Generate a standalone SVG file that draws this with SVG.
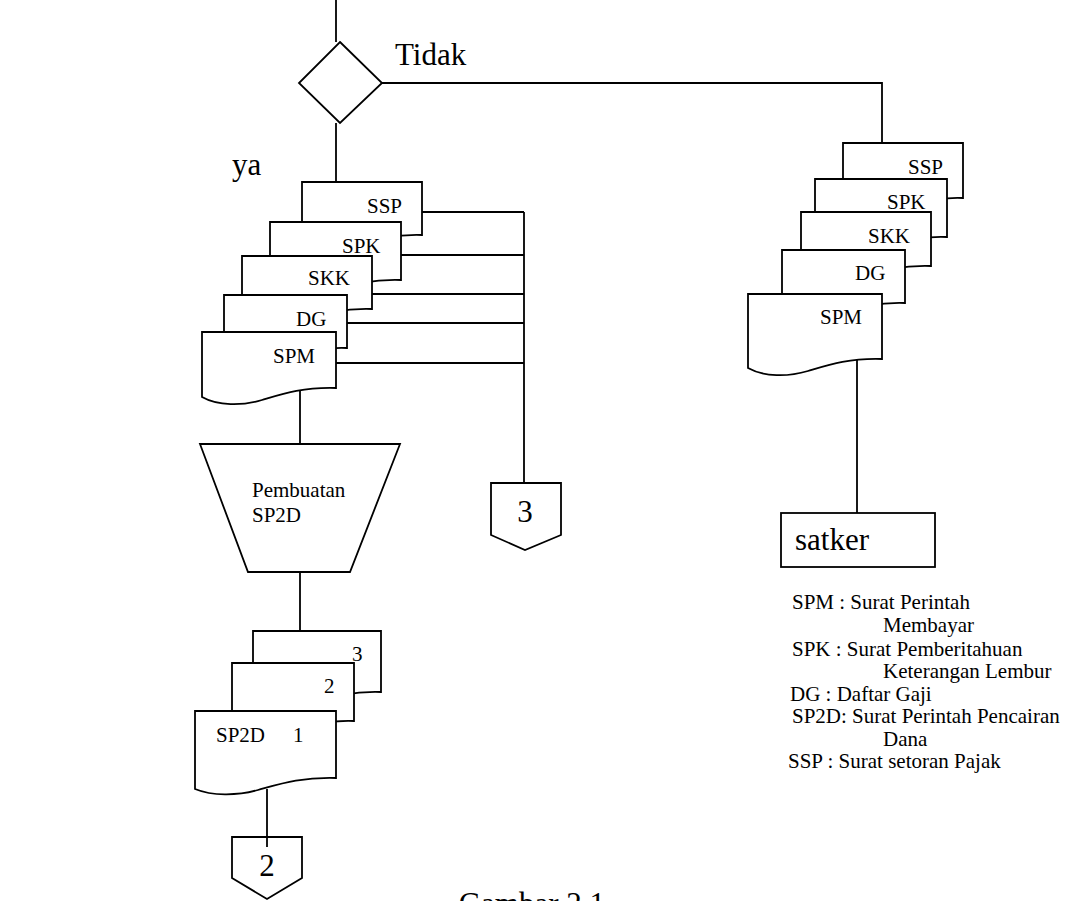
<svg xmlns="http://www.w3.org/2000/svg" width="1070" height="901" viewBox="0 0 1070 901">
<style>
.s{fill:#fff;stroke:#000;stroke-width:1.8;stroke-linejoin:miter}
.c{fill:none;stroke:#000;stroke-width:1.8}
text{font-family:"Liberation Serif","Times New Roman",serif;fill:#000}
.sm{font-size:21px}
.bg{font-size:31px}
</style>
<rect width="1070" height="901" fill="#fff"/>
<g id="connectors">
<path class="c" d="M336,0 V42"/>
<path class="c" d="M336,123 V182"/>
<path class="c" d="M382,83 H882 V143"/>
<path class="c" d="M422,212 H524 M401,255 H524 M372,294 H524 M347,323 H524 M336,363 H524 M524,212 V483"/>
<path class="c" d="M300,388 V444"/>
<path class="c" d="M300,572 V631"/>
<path class="c" d="M267,789 V845"/>
<path class="c" d="M857,359 V513"/>
</g>
<g id="decision">
<path class="s" d="M340,42 L382,83 L340,123 L299,83 Z"/>
</g>
<text class="bg" x="395" y="65">Tidak</text>
<text class="bg" x="232" y="175">ya</text>
<g id="left-ssp"><path class="s" d="M302,182 H422 V235 C392,234 374,241 356,247 C338,253 316,253 302,244 Z"/><text class="sm" x="367" y="213">SSP</text></g>
<g id="left-spk"><path class="s" d="M270,222 H401 V280 C368,279 349,286 329,292 C309,298 286,298 270,289 Z"/><text class="sm" x="342" y="253">SPK</text></g>
<g id="left-skk"><path class="s" d="M242,256 H372 V309 C340,308 320,315 300,321 C281,327 258,327 242,318 Z"/><text class="sm" x="308" y="285">SKK</text></g>
<g id="left-dg"><path class="s" d="M224,295 H347 V348 C316,347 298,354 279,360 C261,366 239,366 224,357 Z"/><text class="sm" x="296" y="326">DG</text></g>
<g id="left-spm"><path class="s" d="M202,332 H336 V388 C302,387 282,394 262,400 C242,406 218,406 202,397 Z"/><text class="sm" x="273" y="363">SPM</text></g>
<g id="right-ssp"><path class="s" d="M843,143 H963 V198 C933,197 915,204 897,210 C879,216 857,216 843,207 Z"/><text class="sm" x="908" y="174">SSP</text></g>
<g id="right-spk"><path class="s" d="M815,179 H947 V237 C914,236 894,243 874,249 C855,255 831,255 815,246 Z"/><text class="sm" x="887" y="209">SPK</text></g>
<g id="right-skk"><path class="s" d="M801,212 H931 V266 C898,265 879,272 859,278 C840,284 817,284 801,275 Z"/><text class="sm" x="868" y="243">SKK</text></g>
<g id="right-dg"><path class="s" d="M782,250 H905 V303 C874,302 856,309 837,315 C819,321 797,321 782,312 Z"/><text class="sm" x="855" y="280">DG</text></g>
<g id="right-spm"><path class="s" d="M748,294 H882 V359 C848,358 828,365 808,371 C788,377 764,377 748,368 Z"/><text class="sm" x="820" y="324">SPM</text></g>
<g id="process-sp2d"><path class="s" d="M200,444 H400 L350,572 H248 Z"/><text class="sm" x="252" y="497">Pembuatan</text><text class="sm" x="252" y="522">SP2D</text></g>
<g id="offpage-3"><path class="s" d="M491,483 H561 V535 L525,550 L491,535 Z"/><text class="bg" x="525" y="522" text-anchor="middle">3</text></g>
<g id="satker"><rect class="s" x="781" y="513" width="154" height="54"/><text class="bg" x="795" y="550">satker</text></g>
<g id="sp2d-3"><path class="s" d="M253,631 H381 V692 C349,691 330,698 311,704 C291,710 268,710 253,701 Z"/><text class="sm" x="352" y="661">3</text></g>
<g id="sp2d-2"><path class="s" d="M232,663 H354 V721 C323,720 305,727 287,733 C269,739 247,739 232,730 Z"/><text class="sm" x="324" y="693">2</text></g>
<g id="sp2d-1"><path class="s" d="M195,711 H336 V778 C301,777 280,784 258,790 C237,796 212,796 195,789 Z"/><text class="sm" x="216" y="742">SP2D</text><text class="sm" x="293" y="742">1</text></g>
<g id="offpage-2"><path class="s" d="M232,837 H302 V878 L267,899 L232,878 Z"/><text class="bg" x="267" y="876" text-anchor="middle">2</text></g>
<path class="c" d="M267,837 V847"/>
<g id="legend" class="sm">
<text x="792" y="609">SPM : Surat Perintah</text>
<text x="883" y="632">Membayar</text>
<text x="792" y="656">SPK : Surat Pemberitahuan</text>
<text x="883" y="678">Keterangan Lembur</text>
<text x="790" y="701">DG : Daftar Gaji</text>
<text x="792" y="723">SP2D: Surat Perintah Pencairan</text>
<text x="883" y="746">Dana</text>
<text x="788" y="768">SSP : Surat setoran Pajak</text>
</g>
<text class="bg" x="605" y="914" text-anchor="end">Gambar 2.1</text>
</svg>
